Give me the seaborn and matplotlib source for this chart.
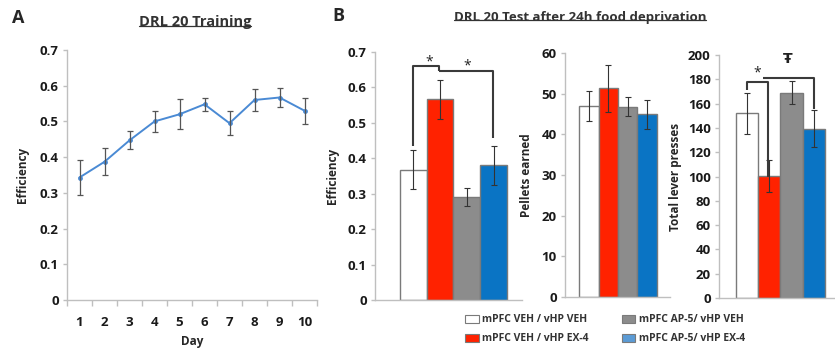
import matplotlib
matplotlib.use("Agg")
import matplotlib.pyplot as plt
import seaborn as sns
import numpy as np
from matplotlib.patches import Patch
from matplotlib.lines import Line2D

# Panel A: DRL 20 training
days = [1, 2, 3, 4, 5, 6, 7, 8, 9, 10]
train_eff = [0.343, 0.387, 0.447, 0.500, 0.520, 0.548, 0.495, 0.560, 0.567, 0.530]
train_err = [0.049, 0.038, 0.025, 0.030, 0.042, 0.019, 0.033, 0.030, 0.027, 0.036]

# Panel B: test after food deprivation
groups = ["mPFC VEH / vHP VEH", "mPFC VEH / vHP EX-4",
          "mPFC AP-5/ vHP VEH", "mPFC AP-5/ vHP EX-4"]
test_eff = [0.368, 0.566, 0.291, 0.380]
test_eff_err = [0.055, 0.056, 0.026, 0.054]
pellets = [47.0, 51.3, 46.8, 44.9]
pellets_err = [3.7, 5.8, 2.4, 3.5]
presses = [152, 100.5, 169, 139.5]
presses_err = [17, 13, 9.6, 15]

bar_colors = ["#ffffff", "#ff2200", "#8c8c8c", "#0a74c4"]
legend_colors = ["#ffffff", "#ff2200", "#8c8c8c", "#5b9bd5"]

sns.set_style("white")
plt.rcParams['font.family'] = ['Open Sans', 'DejaVu Sans']
plt.rcParams['font.weight'] = 'bold'

W, H = 835, 350
fig = plt.figure(figsize=(W / 100, H / 100), dpi=100)


def px_axes(left, top, right, bottom):
    return fig.add_axes([left / W, 1 - bottom / H, (right - left) / W, (bottom - top) / H])


def style_axes(ax):
    sns.despine(ax=ax)
    for s in ["left", "bottom"]:
        ax.spines[s].set_color("#bfbfbf")
        ax.spines[s].set_linewidth(1)
    ax.tick_params(axis="y", which="both", left=True, length=3, width=1,
                   color="#bfbfbf", labelsize=9.5, labelcolor="#1a1a1a", pad=3)
    for lab in ax.get_yticklabels():
        lab.set_fontweight("bold")


### Panel A
axA = px_axes(67, 50, 317, 300)
sns.lineplot(x=days, y=train_eff, ax=axA, color="#4a8ad4", lw=1.4,
             marker="o", markersize=3.5, markeredgewidth=0)
axA.errorbar(days, train_eff, yerr=train_err, fmt="none", ecolor="#555555",
             elinewidth=0.9, capsize=2, capthick=0.9)
axA.set_xlim(0.5, 10.5)
axA.set_ylim(0, 0.7)
axA.set_yticks(np.arange(0, 0.71, 0.1))
axA.set_yticklabels(["0", "0.1", "0.2", "0.3", "0.4", "0.5", "0.6", "0.7"])
axA.set_xticks(days)
axA.set_xticklabels([str(d) for d in days])
axA.set_xticks(np.arange(0.5, 10.6, 1), minor=True)
style_axes(axA)
axA.tick_params(axis="x", which="major", bottom=False, labelsize=9.5,
                labelcolor="#1a1a1a", pad=8)
axA.tick_params(axis="x", which="minor", bottom=True, length=4, width=1,
                color="#bfbfbf")
for lab in axA.get_xticklabels():
    lab.set_fontweight("bold")
axA.set_xlabel("Day", fontsize=8.5, fontweight="bold", labelpad=4)
axA.set_ylabel("Efficiency", fontsize=8.5, fontweight="bold", labelpad=8)


### Panel B bar charts
def bar_panel(box, vals, errs, xlim, ylim, yticks, ylabel, labelpad):
    ax = px_axes(*box)
    sns.barplot(x=groups, y=vals, hue=groups, palette=bar_colors, legend=False,
                saturation=1, width=1.0, edgecolor="#7a7a7a", linewidth=1, ax=ax)
    ax.errorbar(range(len(vals)), vals, yerr=errs, fmt="none", ecolor="#333333",
                elinewidth=0.8, capsize=2, capthick=0.8)
    ax.set_xlim(*xlim)
    ax.set_ylim(*ylim)
    ax.set_yticks(yticks)
    ax.set_xticks([])
    ax.set_xlabel("")
    style_axes(ax)
    ax.set_ylabel(ylabel, fontsize=8.5, fontweight="bold", labelpad=labelpad)
    return ax


axB1 = bar_panel((375, 52, 522, 300), test_eff, test_eff_err, (-1.41, 4.04),
                 (0, 0.7), np.arange(0, 0.71, 0.1), "Efficiency", 6)
axB1.set_yticklabels(["0", "0.1", "0.2", "0.3", "0.4", "0.5", "0.6", "0.7"])
for lab in axB1.get_yticklabels():
    lab.set_fontweight("bold")
axB2 = bar_panel((565, 53, 670, 297), pellets, pellets_err, (-1.25, 4.2),
                 (0, 60), np.arange(0, 61, 10), "Pellets earned", 6)
axB3 = bar_panel((719, 55, 835, 298), presses, presses_err, (-1.26, 3.95),
                 (0, 200), np.arange(0, 201, 20), "Total lever presses", 4)

# significance brackets
bk = dict(color="#3a3a3a", lw=1.5, solid_capstyle="butt")
star = dict(ha="center", va="center", fontsize=10, fontweight="normal", color="#222222")
axB1.plot([0, 0, 0.96, 0.96], [0.434, 0.660, 0.660, 0.645], **bk)
axB1.plot([0.96, 2.96, 2.96], [0.646, 0.646, 0.458], **bk)
axB1.text(0.6, 0.672, "*", **star)
axB1.text(2.0, 0.660, "*", **star)

axB3.plot([0, 0, 0.95, 0.95], [171, 178, 178, 100], **bk)
axB3.plot([0.72, 3.0, 3.0], [181, 181, 155.5], **bk)
axB3.text(0.45, 185, "*", **star)
axB3.text(1.84, 197, "\u0166", ha="center", va="center", fontsize=10,
          fontweight="bold", color="#222222", family=["DejaVu Sans"])

# legend
handles = [Patch(facecolor=c, edgecolor="#7a7a7a", linewidth=0.8) for c in legend_colors]
leg = fig.legend(handles, groups, ncol=2, loc="upper left",
                 bbox_to_anchor=(456 / W, 1 - 305 / H), frameon=False,
                 handlelength=1.3, handleheight=0.8, handletextpad=0.3,
                 columnspacing=3.2, labelspacing=0.75, fontsize=7.5)
for t in leg.get_texts():
    t.set_color("#333333")
    t.set_fontweight("bold")

# panel letters and underlined titles
fig.text(18 / W, 1 - 18 / H, "A", fontsize=13, fontweight="bold", ha="center", va="center")
fig.text(338 / W, 1 - 16 / H, "B", fontsize=13, fontweight="bold", ha="center", va="center")
tA = fig.text(195 / W, 1 - 22 / H, "DRL 20 Training", fontsize=10.5,
              fontweight="bold", color="#333333", ha="center", va="center")
tB = fig.text(580 / W, 1 - 17 / H, "DRL 20 Test after 24h food deprivation",
              fontsize=9.5, fontweight="bold", color="#333333", ha="center", va="center")

fig.canvas.draw()
renderer = fig.canvas.get_renderer()
for t in (tA, tB):
    bb = t.get_window_extent(renderer).transformed(fig.transFigure.inverted())
    y = bb.y0 + 3.5 / H
    fig.add_artist(Line2D([bb.x0, bb.x1], [y, y], transform=fig.transFigure,
                          color="#333333", lw=0.9))

fig.savefig("out.png", dpi=100)
